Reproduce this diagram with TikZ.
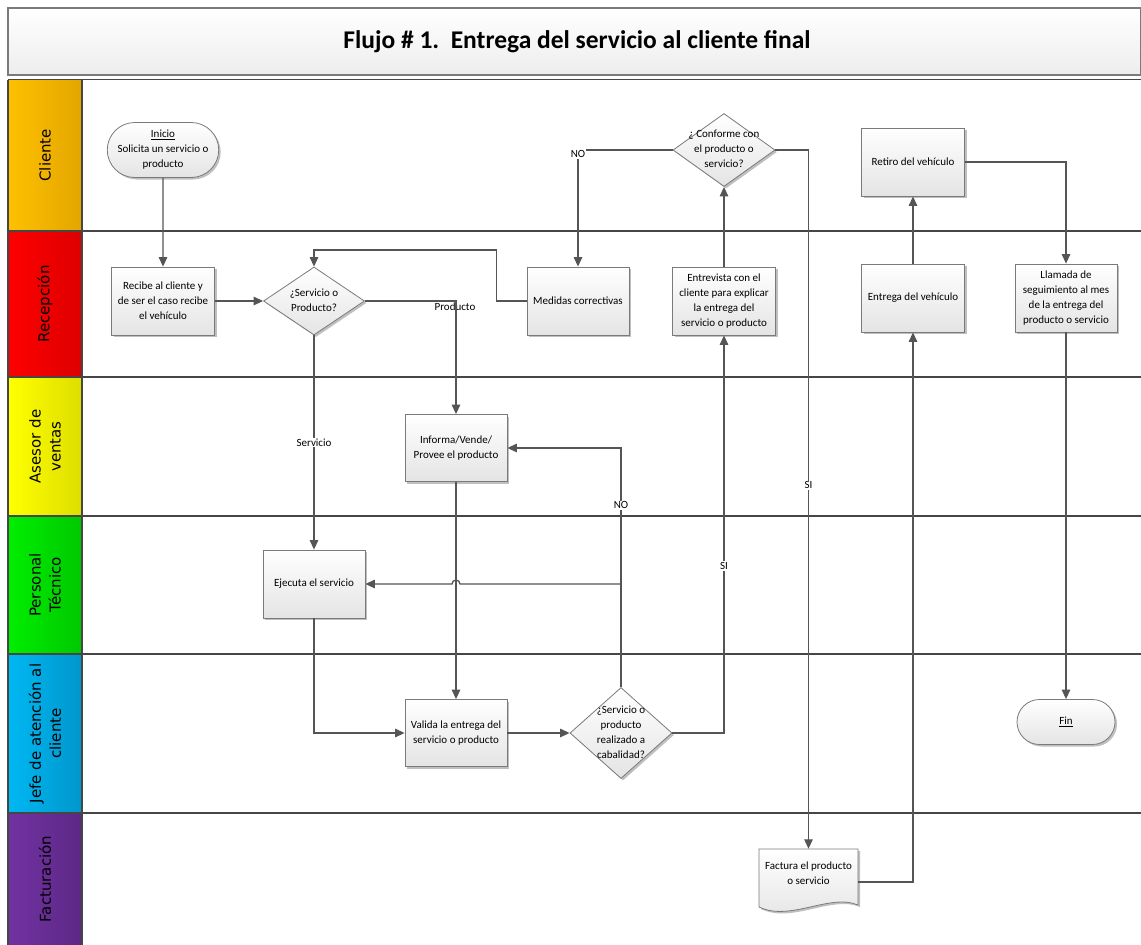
\documentclass[tikz,border=0pt]{standalone}
\usepackage{fontspec}
\setmainfont{Carlito}
\newfontfamily\lanefont{DejaVu Sans}
\usetikzlibrary{shapes.geometric,shapes.misc,arrows.meta,shadows}

\definecolor{linegray}{HTML}{555555}
\definecolor{lanegray}{HTML}{464646}
\definecolor{boxline}{HTML}{7A7A7A}
\definecolor{boxfill}{HTML}{E4E4E4}
\definecolor{cliL}{HTML}{FFC000}\definecolor{cliR}{HTML}{E2A600}
\definecolor{recL}{HTML}{FF0000}\definecolor{recR}{HTML}{DD0000}
\definecolor{aseL}{HTML}{FFFF00}\definecolor{aseR}{HTML}{DEDE00}
\definecolor{perL}{HTML}{00EE00}\definecolor{perR}{HTML}{00C800}
\definecolor{jefL}{HTML}{00B8F2}\definecolor{jefR}{HTML}{0096CC}
\definecolor{facL}{HTML}{7232A2}\definecolor{facR}{HTML}{5C2886}

% diamond text may run over the edges, as in the original
\newcommand{\dtxt}[1]{\smash{\makebox[0pt]{\raisebox{-2.5pt}{\begin{tabular}{@{}c@{}}#1\end{tabular}}}}}

\tikzset{
  boxlook/.style={top color=white, bottom color=boxfill, draw=boxline, line width=0.8pt,
    drop shadow={shadow xshift=2pt, shadow yshift=-2pt, opacity=0.25, fill=black}},
  proc/.style={boxlook, rectangle, minimum width=102, minimum height=68, inner sep=2pt,
    align=center, font=\fontsize{11}{15}\selectfont},
  term/.style={proc, rounded rectangle},
  decision/.style={boxlook, diamond, inner sep=0pt, font=\fontsize{11}{15}\selectfont},
  flow/.style={draw=linegray, line width=1.3pt, -{Triangle[length=9.5pt,width=8.5pt]}},
  lbl/.style={fill=white, inner sep=1pt, font=\fontsize{11}{12}\selectfont},
  laneline/.style={draw=lanegray, line width=1.2pt},
  lanetxt/.style={rotate=90, align=center, font=\lanefont\fontsize{15}{20}\selectfont},
}

\begin{document}
\begin{tikzpicture}[x=1pt, y=-1pt]
\useasboundingbox (0,0) rectangle (1141,945);

% title
\path[top color=white, bottom color=gray!14, draw=boxline, line width=1.2pt] (8,8) rectangle (1141,75);
\node (title) at (577,42) {\fontsize{25.5}{30}\selectfont\bfseries Flujo \# 1.\ \ Entrega del servicio al cliente final};

% lanes
\foreach \ya/\yb/\lc/\rc/\txt [count=\i] in {79.5/231/cliL/cliR/Cliente,
    231/377/recL/recR/Recepción, 377/516/aseL/aseR/{Asesor de\\ventas},
    516/654/perL/perR/{Personal\\Técnico}, 654/813/jefL/jefR/{Jefe de atención al\\cliente},
    813/945/facL/facR/Facturación}
{
  \path[left color=\lc, right color=\rc] (8,\ya) rectangle (82,\yb);
  \node[lanetxt] (lane\i) at (45,{(\ya+\yb)/2}) {\txt};
  \draw[laneline] (8,\ya) -- (1141,\ya);
}
\draw[laneline] (8,79.5) -- (8,945);
\draw[laneline] (82,79.5) -- (82,945);

% shapes
\draw (163,150) node[term, minimum height=55] (inicio) {\underline{Inicio}\\Solicita un servicio o\\producto};
\draw (163,301) node[proc, minimum width=103] (recibe) {Recibe al cliente y\\de ser el caso recibe\\el vehículo};
\draw (314,301) node[decision, minimum width=101, minimum height=68] (tipo) {\dtxt{¿Servicio o\\Producto?}};
\draw (578,301) node[proc] (medidas) {Medidas correctivas};
\draw (724,301) node[proc, minimum width=103] (entrevista) {Entrevista con el\\cliente para explicar\\la entrega del\\servicio o producto};
\draw (724,150) node[decision, minimum width=102, minimum height=73] (conforme) {\dtxt{¿ Conforme con\\el producto o\\servicio?}};
\draw (913,162) node[proc, minimum width=103] (retiro) {Retiro del vehículo};
\draw (913,298) node[proc, minimum width=103] (entrega) {Entrega del vehículo};
\draw (1066,298) node[proc] (llamada) {Llamada de\\seguimiento al mes\\de la entrega del\\producto o servicio};
\draw (456,448) node[proc, minimum height=67] (informa) {Informa/Vende/\\Provee el producto};
\draw (314,584) node[proc] (ejecuta) {Ejecuta el servicio};
\draw (456,733) node[proc, minimum height=67] (valida) {Valida la entrega del\\servicio o producto};
\draw (621,733) node[decision, minimum width=102, minimum height=91] (cabal) {\dtxt{¿Servicio o\\producto\\realizado a\\cabalidad?}};
\draw (1066,722) node[term, minimum height=45] (fin) {\underline{Fin}};
\path[boxlook] (759,849) -- (858,849) -- (858,905) .. controls (830,893) and (790,922) .. (759,907) -- cycle;
\draw (808.5,873) node[align=center, minimum width=99, minimum height=48, font=\fontsize{11}{15}\selectfont] (factura) {Factura el producto\\o servicio};

% connectors
\draw[flow] (inicio) -- (recibe);
\draw[flow] (recibe) -- (tipo);
\node[font=\fontsize{11}{12}\selectfont] (lblprod) at (455,307) {Producto};
\draw[flow] (tipo.east) -| (informa.north);
\draw[flow] (tipo.south) -- node[lbl] {Servicio} (ejecuta.north);
\draw[flow] (medidas.west) -- ++(-30,0) -- ++(0,-51) -| (tipo.north);
\draw[flow] (conforme.west) -| node[lbl, pos=0.5, yshift=-4pt] {NO} (medidas.north);
\draw[flow] (conforme.east) -| node[lbl, pos=0.74] {SI} (factura.north);
\draw[flow] (entrevista) -- (conforme);
\draw[flow] (cabal.east) -| node[lbl, pos=0.71] {SI} (entrevista.south);
\draw[flow] (cabal.north) |- node[lbl, pos=0.38] {NO} (informa.east);
\coordinate (nobranch) at (cabal.north |- ejecuta.east);
\draw[flow] (nobranch) -- ([xshift=4pt]informa.south |- ejecuta.east)
  arc[start angle=0, end angle=-180, radius=4] -- (ejecuta.east);
\draw[flow] (informa) -- (valida);
\draw[flow] (ejecuta.south) |- (valida.west);
\draw[flow] (valida) -- (cabal);
\draw[flow] ([yshift=-9pt]factura.east) -| (entrega.south);
\draw[flow] (entrega) -- (retiro);
\draw[flow] (retiro.east) -| (llamada.north);
\draw[flow] (llamada) -- (fin);
\end{tikzpicture}
\end{document}
